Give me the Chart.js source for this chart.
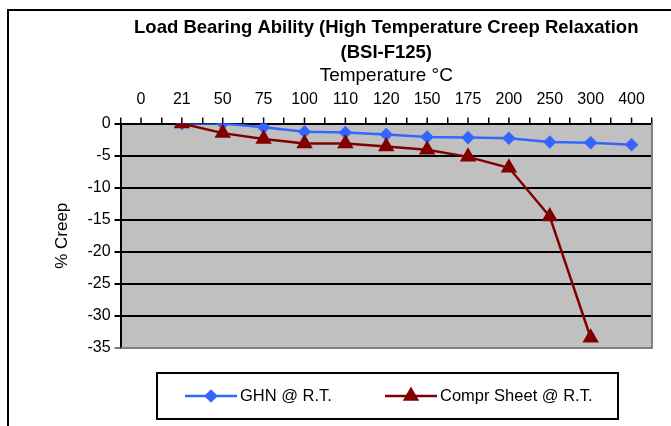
<!DOCTYPE html>
<html>
<head>
<meta charset="utf-8">
<script src="https://cdn.jsdelivr.net/npm/chart.js@4/dist/chart.umd.min.js"></script>
<style>
  html, body { margin: 0; padding: 0; background: #fff; }
</style>
</head>
<body>
<canvas id="myChart" width="671" height="426"></canvas>
<script>
const temperatures = ['0', '21', '50', '75', '100', '110', '120', '150', '175', '200', '250', '300', '400'];
const ghn = [null, 0, 0, -0.6, -1.3, -1.4, -1.7, -2.1, -2.2, -2.3, -2.9, -3.0, -3.3];
const comprSheet = [null, 0, -1.5, -2.4, -3.1, -3.1, -3.6, -4.1, -5.2, -6.9, -14.5, -33.4, null];
const creepTicks = [0, -5, -10, -15, -20, -25, -30, -35];
const seriesNames = ['GHN @ R.T.', 'Compr Sheet @ R.T.'];

Chart.defaults.font.family = "'Liberation Sans', Arial, sans-serif";
Chart.defaults.color = '#000';

// grey plot area, outer frame, small ticks at category centres
const plotDecor = {
    id: 'plotDecor',
    beforeDraw(chart) {
        const { ctx, chartArea: a } = chart;
        ctx.save();
        ctx.fillStyle = '#fff';
        ctx.fillRect(0, 0, chart.width, chart.height);
        ctx.strokeStyle = '#000';
        ctx.lineWidth = 2;
        ctx.strokeRect(8, 10, chart.width + 20, chart.height + 20);
        ctx.fillStyle = '#c0c0c0';
        ctx.fillRect(a.left, a.top, a.right - a.left, a.bottom - a.top);
        ctx.restore();
    },
    beforeDatasetsDraw(chart) {
        const { ctx, chartArea: a, scales } = chart;
        ctx.save();
        ctx.strokeStyle = '#808080';
        ctx.lineWidth = 2;
        ctx.beginPath();
        ctx.moveTo(a.right, a.top);
        ctx.lineTo(a.right, a.bottom);
        ctx.lineTo(a.left, a.bottom);
        ctx.stroke();
        ctx.strokeStyle = '#000';
        ctx.lineWidth = 1.5;
        ctx.beginPath();
        scales.x.ticks.forEach((t, i) => {
            const px = scales.x.getPixelForTick(i);
            ctx.moveTo(px, a.top - 6);
            ctx.lineTo(px, a.top + 1);
        });
        ctx.stroke();
        ctx.restore();
    }
};

// boxed legend like the excel one
const boxLegend = {
    id: 'boxLegend',
    afterDraw(chart, args, opts) {
        const ctx = chart.ctx;
        ctx.save();
        ctx.strokeStyle = '#000';
        ctx.lineWidth = 2;
        ctx.strokeRect(opts.left, opts.top, opts.width, opts.height);
        const cy = opts.top + opts.height / 2;
        ctx.font = opts.font;
        ctx.textBaseline = 'middle';
        chart.data.datasets.forEach((ds, i) => {
            const x0 = opts.items[i];
            ctx.strokeStyle = ds.borderColor;
            ctx.lineWidth = ds.borderWidth;
            ctx.beginPath();
            ctx.moveTo(x0, cy);
            ctx.lineTo(x0 + opts.lineLength, cy);
            ctx.stroke();
            ctx.fillStyle = ds.pointBackgroundColor;
            ctx.strokeStyle = ds.pointBorderColor;
            Chart.helpers.drawPoint(ctx, {
                pointStyle: ds.pointStyle, radius: ds.pointRadius, borderWidth: 1, rotation: 0
            }, x0 + opts.lineLength / 2, cy);
            ctx.fillStyle = '#000';
            ctx.fillText(ds.label, x0 + opts.lineLength + 3, cy);
        });
        ctx.restore();
    }
};

const ctx = document.getElementById('myChart').getContext('2d');
new Chart(ctx, {
    type: 'line',
    data: {
        labels: temperatures,
        datasets: [
            {
                label: seriesNames[0],
                data: ghn,
                borderColor: '#3366ff',
                backgroundColor: '#3366ff',
                pointBackgroundColor: '#3366ff',
                pointBorderColor: '#3366ff',
                pointStyle: 'rectRot',
                pointRadius: 5,
                borderWidth: 2.5,
                order: 1
            },
            {
                label: seriesNames[1],
                data: comprSheet,
                borderColor: '#800000',
                backgroundColor: '#800000',
                pointBackgroundColor: '#800000',
                pointBorderColor: '#800000',
                pointStyle: 'triangle',
                pointRadius: 7,
                borderWidth: 2.5,
                order: 0
            }
        ]
    },
    options: {
        responsive: false,
        animation: false,
        devicePixelRatio: 1,
        layout: { padding: { left: 20, right: 19, top: 0, bottom: 78 } },
        plugins: {
            legend: { display: false },
            tooltip: { enabled: false },
            title: {
                display: true,
                fullSize: false,
                text: ['Load Bearing Ability (High Temperature Creep Relaxation', '(BSI-F125)'],
                font: { size: 18.5, weight: 'bold', lineHeight: '25px' },
                padding: { top: 15.5, bottom: 0 }
            },
            boxLegend: {
                left: 157, top: 373, width: 461, height: 46,
                items: [185, 385],
                lineLength: 52,
                font: "16.5px 'Liberation Sans', Arial, sans-serif"
            }
        },
        scales: {
            x: {
                position: 'top',
                offset: true,
                title: {
                    display: true,
                    text: 'Temperature °C',
                    font: { size: 19 },
                    padding: { top: -1, bottom: -5 }
                },
                ticks: { font: { size: 16 }, padding: 8, maxRotation: 0, autoSkip: false },
                grid: {
                    offset: true,
                    drawOnChartArea: false,
                    tickLength: 6,
                    color: '#000',
                    lineWidth: 1.5
                },
                border: { display: true, color: '#000', width: 2 }
            },
            y: {
                min: Math.min(...creepTicks),
                max: Math.max(...creepTicks),
                title: {
                    display: true,
                    text: '% Creep',
                    font: { size: 17 },
                    padding: { top: 32, bottom: 11 }
                },
                ticks: { stepSize: creepTicks[0] - creepTicks[1], font: { size: 16 }, padding: 4 },
                grid: {
                    color: (c) => (c.tick && c.tick.value === Math.min(...creepTicks) ? '#808080' : '#000'),
                    lineWidth: 2,
                    tickLength: 6
                },
                border: { display: true, color: '#000', width: 2 }
            }
        }
    },
    plugins: [plotDecor, boxLegend]
});
</script>
</body>
</html>
